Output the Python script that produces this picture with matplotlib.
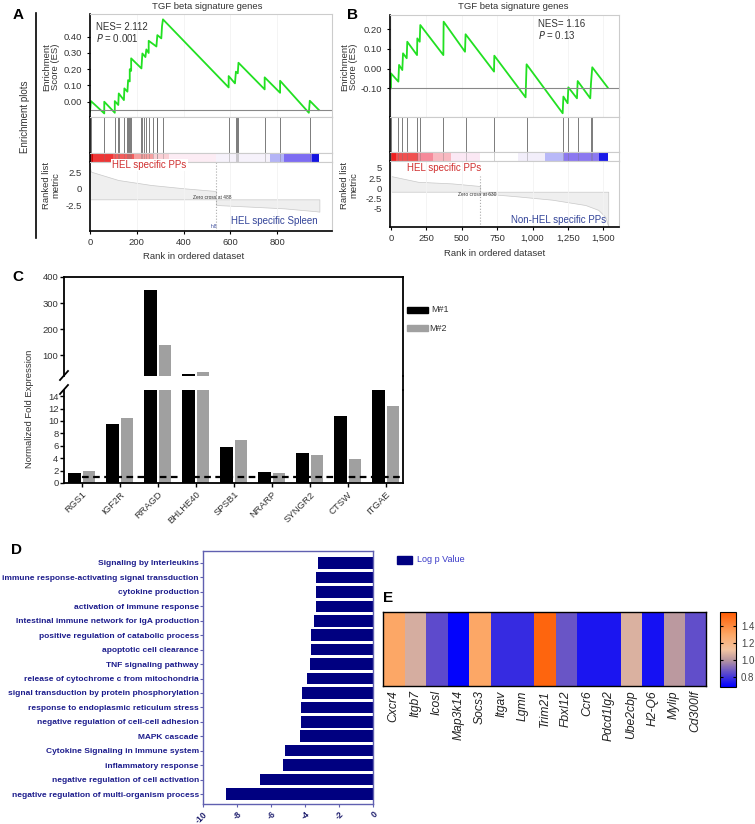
import numpy as np
import matplotlib.pyplot as plt
from matplotlib.colors import LinearSegmentedColormap
from matplotlib.patches import Rectangle

plt.rcParams['font.family'] = ['Liberation Sans', 'DejaVu Sans']

W, H = 755, 824

''' Panel A : running enrichment score (vertices), hits, ranked metric '''
es_a_rank = [0, 4, 61, 61, 106, 106, 121, 123, 145, 147, 160, 163, 170, 170, 176, 176,
             220, 224, 237, 241, 251, 251, 284, 288, 305, 308, 312, 593, 593, 620, 624,
             632, 635, 747, 747, 813, 813, 936, 940, 979]
es_a_val = [-0.06, 0.004, -0.072, 0.0, -0.068, 0.004, -0.02, 0.051, 0.01, 0.082, 0.062, 0.133,
            0.125, 0.2, 0.19, 0.267, 0.205, 0.297, 0.275, 0.322, 0.30, 0.375, 0.34, 0.41,
            0.39, 0.465, 0.507, 0.088, 0.158, 0.113, 0.185, 0.175, 0.24, 0.076, 0.15,
            0.055, 0.129, -0.068, 0.006, -0.051]
hits_a = [3, 61, 106, 118, 123, 145, 160, 163, 166, 170, 176, 220, 224, 231, 241, 251,
          269, 286, 288, 312, 593, 624, 630, 635, 747, 813, 940]
bar_a_start = [0, 11, 100, 190, 270, 340, 540, 770, 830, 950]
bar_a_end = [11, 100, 190, 270, 340, 540, 770, 830, 950, 981]
bar_a_col = ['#d40000', '#ee3535', '#f25c5c', '#f6a0a0', '#fad0d5', '#fcecf4', '#f6f2fb',
             '#b4b4f6', '#7d6cf2', '#1414e0']
metric_a_pos_rank = [0, 4, 121, 262, 404, 539]
metric_a_pos_val = [3.15, 2.6, 1.35, 0.6, 0.1, -0.3]
metric_a_neg_rank = [539, 688, 830, 971, 981]
metric_a_neg_val = [-2.4, -2.65, -2.9, -3.35, -3.4]

''' Panel B '''
es_b_rank = [0, 0, 52, 57, 80, 85, 111, 115, 184, 186, 203, 207, 370, 372, 523, 527, 728,
             730, 951, 958, 1213, 1218, 1248, 1253, 1314, 1319, 1408, 1413, 1422, 1531]
es_b_val = [-0.10, -0.024, -0.066, 0.019, -0.007, 0.078, 0.053, 0.137, 0.069, 0.154, 0.137,
            0.222, 0.069, 0.239, 0.086, 0.175, -0.015, 0.066, -0.146, 0.022, -0.227, -0.142,
            -0.176, -0.095, -0.151, -0.063, -0.151, -0.075, 0.007, -0.096]
hits_b = [0, 52, 80, 111, 184, 205, 370, 527, 728, 958, 1218, 1253, 1319, 1413, 1422]
bar_b_start = [0, 35, 193, 300, 424, 629, 900, 1088, 1225, 1470]
bar_b_end = [35, 193, 300, 424, 629, 900, 1088, 1225, 1470, 1535]
bar_b_col = ['#ee2020', '#f05050', '#f58a9a', '#f8b8c0', '#fbe8f4', '#ffffff', '#f2eefa',
             '#b8b8f8', '#8c78f0', '#1a1ae8']
metric_b_pos_rank = [0, 191, 432, 630]
metric_b_pos_val = [3.0, 1.6, 1.2, 0.56]
metric_b_neg_rank = [630, 899, 1139, 1373, 1465, 1514, 1535]
metric_b_neg_val = [-1.2, -2.0, -2.8, -4.1, -5.3, -7.0, -9.4]

''' Panel C '''
genes_c = ['RGS1', 'IGF2R', 'RRAGD', 'BHLHE40', 'SPSB1', 'NRARP', 'SYNGR2', 'CTSW', 'ITGAE']
m1_c = [1.66, 9.47, 352, 29, 5.85, 1.84, 4.82, 10.73, 15.0]
m2_c = [1.95, 10.56, 140, 34, 6.9, 1.66, 4.47, 3.84, 12.45]

''' Panel D '''
terms_d = ['Signaling by Interleukins', 'immune response-activating signal transduction',
           'cytokine production', 'activation of immune response',
           'Intestinal immune network for IgA production',
           'positive regulation of catabolic process', 'apoptotic cell clearance',
           'TNF signaling pathway', 'release of cytochrome c from mitochondria',
           'signal transduction by protein phosphorylation',
           'response to endoplasmic reticulum stress',
           'negative regulation of cell-cell adhesion', 'MAPK cascade',
           'Cytokine Signaling in Immune system', 'inflammatory response',
           'negative regulation of cell activation',
           'negative regulation of multi-organism process']
logp_d = [-3.24, -3.33, -3.35, -3.35, -3.45, -3.63, -3.63, -3.69, -3.9, -4.2, -4.24, -4.24,
          -4.3, -5.16, -5.3, -6.63, -8.63]

''' Panel E '''
genes_e = ['Cxcr4', 'Itgb7', 'Icosl', 'Map3k14', 'Socs3', 'Itgav', 'Lgmn', 'Trim21',
           'Fbxl12', 'Ccr6', 'Pdcd1lg2', 'Ube2cbp', 'H2-Q6', 'Mylip', 'Cd300lf']
fold_e = [1.3, 1.06, 0.85, 0.69, 1.3, 0.78, 0.78, 1.53, 0.87, 0.73, 0.73, 1.07, 0.72,
          1.01, 0.855]


fig = plt.figure(figsize=(W / 100, H / 100), dpi=100)


def px_axes(x0, y0, x1, y1):
    return fig.add_axes([x0 / W, 1 - y1 / H, (x1 - x0) / W, (y1 - y0) / H])


def gsea_panel(x0, x1, ys, xlim, es_rank, es_val, es_base, es_ylim, es_ticks, es_labels,
               hits, b_start, b_end, b_col, p_rank, p_val, n_rank, n_val, m_base, m_ylim,
               m_ticks, m_labels, x_ticks, x_labels, zero_rank, zero_top):
    y_es, y_hit, y_bar, y_rank, y_end = ys
    light = '#cccccc'

    # running enrichment score
    ax = px_axes(x0, y_es, x1, y_hit)
    ax.plot(es_rank, es_val, color='#22e022', lw=1.3)
    ax.axhline(es_base, color='#888888', lw=0.8)
    ax.set_xlim(xlim)
    ax.set_ylim(es_ylim)
    ax.set_xticks(x_ticks)
    ax.grid(axis='x', color='#f3f3f3', lw=0.6)
    ax.tick_params(axis='x', length=0, labelbottom=False)
    ax.set_yticks(es_ticks)
    ax.set_yticklabels(es_labels)
    ax.tick_params(axis='y', length=2, pad=4, labelsize=6.8, labelcolor='#333333')
    for s in ['top', 'right', 'bottom']:
        ax.spines[s].set_color(light)
    ax.spines['left'].set_linewidth(1.2)

    # hits
    ax = px_axes(x0, y_hit, x1, y_bar)
    ax.vlines(hits, 0, 1, color='#666666', lw=0.6)
    ax.set_xlim(xlim)
    ax.set_ylim(0, 1)
    ax.set_xticks([])
    ax.set_yticks([])
    for s in ['top', 'right', 'bottom']:
        ax.spines[s].set_color(light)
    ax.spines['left'].set_linewidth(1.2)

    # colour strip
    ax = px_axes(x0, y_bar, x1, y_rank)
    ax.broken_barh([(s, e - s) for s, e in zip(b_start, b_end)], (0, 1), facecolors=b_col)
    ax.vlines(hits, 0, 1, color='#777777', lw=0.5, alpha=0.5)
    ax.set_xlim(xlim)
    ax.set_ylim(0, 1)
    ax.set_xticks([])
    ax.set_yticks([])
    for s in ['top', 'right', 'bottom']:
        ax.spines[s].set_color(light)
    ax.spines['left'].set_linewidth(1.2)

    # ranked list metric
    ax = px_axes(x0, y_rank, x1, y_end)
    ax.fill_between(p_rank, m_base, p_val, facecolor='#efefef', edgecolor='#c8c8c8', lw=0.5)
    ax.fill_between(n_rank, m_base, n_val, facecolor='#efefef', edgecolor='#c8c8c8', lw=0.5)
    ax.vlines(zero_rank, m_ylim[0], zero_top, color='#aaaaaa', ls=':', lw=0.8)
    ax.set_xlim(xlim)
    ax.set_ylim(m_ylim)
    ax.set_yticks(m_ticks)
    ax.set_yticklabels(m_labels)
    ax.set_xticks(x_ticks)
    ax.set_xticklabels(x_labels)
    ax.grid(axis='x', color='#f3f3f3', lw=0.6)
    ax.tick_params(axis='y', length=0, pad=6, labelsize=6.8, labelcolor='#333333')
    ax.tick_params(axis='x', length=2, pad=3, labelsize=6.8, labelcolor='#333333')
    for s in ['top', 'right']:
        ax.spines[s].set_color(light)
    ax.spines['left'].set_linewidth(1.2)
    ax.spines['bottom'].set_linewidth(1.2)


gsea_panel(90, 332, (14, 117, 153, 162, 231), (0, 1035), es_a_rank, es_a_val, -0.051,
           (-0.094, 0.54), [0, 0.1, 0.2, 0.3, 0.4], ['0.00', '0.10', '0.20', '0.30', '0.40'],
           hits_a, bar_a_start, bar_a_end, bar_a_col, metric_a_pos_rank, metric_a_pos_val,
           metric_a_neg_rank, metric_a_neg_val, -1.55, (-6.3, 4.05), [2.5, 0, -2.5],
           ['2.5', '0', '-2.5'], [0, 200, 400, 600, 800], ['0', '200', '400', '600', '800'],
           539, 4.05)

gsea_panel(390, 619, (15, 117, 152, 161, 227), (-7, 1611), es_b_rank, es_b_val, -0.097,
           (-0.246, 0.273), [-0.1, 0, 0.1, 0.2], ['-0.10', '0.00', '0.10', '0.20'],
           hits_b, bar_b_start, bar_b_end, bar_b_col, metric_b_pos_rank, metric_b_pos_val,
           metric_b_neg_rank, metric_b_neg_val, -0.84, (-9.5, 6.7), [5, 2.5, 0, -2.5, -5],
           ['5', '2.5', '0', '-2.5', '-5'], [0, 250, 500, 750, 1000, 1250, 1500],
           ['0', '250', '500', '750', '1,000', '1,250', '1,500'], 630, 2.9)

''' Panel C : broken y axis bar chart '''
x_c = np.arange(len(genes_c))
for (y0, y1, lim) in [(277, 376, (20, 400)), (390, 483, (0, 15))]:
    ax = px_axes(64, y0, 403, y1)
    ax.bar(x_c - 0.19, m1_c, width=0.33, color='black')
    ax.bar(x_c + 0.19, m2_c, width=0.33, color='#a0a0a0')
    ax.set_xlim(-0.47, 8.45)
    ax.set_ylim(lim)
    for s in ax.spines.values():
        s.set_linewidth(1.3)
    ax.tick_params(axis='y', length=3, width=1, pad=1, labelsize=6.8, labelcolor='#333333')
    if lim[0] > 0:
        ax.set_yticks([100, 200, 300, 400])
        ax.spines['bottom'].set_visible(False)
        ax.set_xticks([])
    else:
        ax.axhline(1, xmin=0.47 / 8.92, color='black', lw=1.6, ls=(0, (3, 2)))
        ax.set_yticks(np.arange(0, 15, 2))
        ax.spines['top'].set_visible(False)
        ax.set_xticks(x_c)
        ax.set_xticklabels(genes_c, rotation=45, ha='right', rotation_mode='anchor')
        ax.tick_params(axis='x', length=3, width=1, pad=2, labelsize=6.8,
                       labelcolor='#333333')

''' Panel D : log p values '''
ax = px_axes(203, 551, 373, 804)
ax.barh(np.arange(len(terms_d)), logp_d, height=0.8, color='#000080')
ax.set_xlim(-10, 0)
ax.set_ylim(len(terms_d) - 1 + 0.69, -0.83)
ax.set_yticks(np.arange(len(terms_d)))
ax.set_yticklabels(terms_d, fontweight='bold')
ax.set_xticks([-10, -8, -6, -4, -2, 0])
ax.set_xticklabels(['-10', '-8', '-6', '-4', '-2', '0'], rotation=45, ha='right',
                   rotation_mode='anchor', fontweight='bold')
ax.tick_params(axis='y', length=2, pad=1, labelsize=6.0, labelcolor='#1c1c8c',
               color='#6060b0')
ax.tick_params(axis='x', length=2, pad=2, labelsize=6.2, labelcolor='#1c1c6c',
               color='#6060b0')
for s in ax.spines.values():
    s.set_color('#6060b0')
    s.set_linewidth(1.0)

''' Panel E : heatmap '''
cmap_e = LinearSegmentedColormap.from_list('e', [
    (0.0, '#0000ff'), ((0.85 - 0.68) / 0.89, '#5f4ccc'), ((1.0 - 0.68) / 0.89, '#b8969f'),
    ((1.12 - 0.68) / 0.89, '#f2c4a2'), ((1.3 - 0.68) / 0.89, '#fca867'), (1.0, '#ff5a00')])
ax = px_axes(383, 612, 706, 686)
im = ax.imshow(np.array([fold_e]), cmap=cmap_e, vmin=0.68, vmax=1.57, aspect='auto')
ax.set_yticks([])
ax.set_xticks(np.arange(len(genes_e)))
ax.set_xticklabels(genes_e, rotation=90, style='italic')
ax.tick_params(axis='x', length=0, pad=3, labelsize=8.7, labelcolor='#222222')
for s in ax.spines.values():
    s.set_linewidth(1.0)
cax = px_axes(720, 612, 736, 687)
cb = fig.colorbar(im, cax=cax, ticks=[0.8, 1.0, 1.2, 1.4])
cb.ax.tick_params(labelsize=7, labelcolor='#444444', length=2, direction='in', left=True)
cb.outline.set_linewidth(0.8)

''' Overlay for labels in pixel coordinates '''
ov = fig.add_axes([0, 0, 1, 1])
ov.set_xlim(0, W)
ov.set_ylim(H, 0)
ov.axis('off')

gray = '#333333'
for lab, x, y in [('A', 18, 15), ('B', 352, 15), ('C', 18, 277), ('D', 16, 550),
                  ('E', 388, 598)]:
    ov.text(x, y, lab, fontsize=11, fontweight='heavy', ha='center', va='center')

ov.text(207, 6, 'TGF beta signature genes', fontsize=6.8, color=gray, ha='center', va='center')
ov.text(513, 6, 'TGF beta signature genes', fontsize=6.8, color=gray, ha='center', va='center')
ov.text(96, 27, 'NES= 2.112', fontsize=7, color=gray, va='center')
ov.text(96, 38, '$P$ = 0.001', fontsize=7, color=gray, va='center')
ov.text(538, 24, 'NES= 1.16', fontsize=7, color=gray, va='center')
ov.text(538, 35, '$P$ = 0.13', fontsize=7, color=gray, va='center')

ov.plot([36, 36], [13, 238], color='black', lw=1.2)
ov.text(25, 117, 'Enrichment plots', fontsize=7, color=gray, rotation=90,
        ha='center', va='center')
for x in (51, 349):
    ov.text(x, 67, 'Enrichment\nScore (ES)', fontsize=6.8, color=gray, rotation=90,
            ha='center', va='center', linespacing=1.0)
    ov.text(x, 185, 'Ranked list\nmetric', fontsize=6.8, color=gray, rotation=90,
            ha='center', va='center', linespacing=1.0)

ov.text(112, 165, 'HEL specific PPs', fontsize=7, color='#d03030', va='center',
        bbox=dict(fc='white', ec='none', pad=1))
ov.text(231, 221, 'HEL specific Spleen', fontsize=7, color='#334499', va='center')
ov.text(193, 197, 'Zero cross at 488', fontsize=3.5, color='#333333', va='center')
ov.text(211, 226, "'n8", fontsize=3.5, color='#334499', va='center')
ov.text(194, 256, 'Rank in ordered dataset', fontsize=6.8, color=gray, ha='center',
        va='center')

ov.text(407, 168, 'HEL specific PPs', fontsize=7, color='#d03030', va='center')
ov.text(511, 220, 'Non-HEL specific PPs', fontsize=7, color='#334499', va='center')
ov.text(458, 194, 'Zero cross at 630', fontsize=3.5, color='#333333', va='center')
ov.text(495, 253, 'Rank in ordered dataset', fontsize=6.8, color=gray, ha='center',
        va='center')

# panel C decorations
ov.text(30, 409, 'Normalized Fold Expression', fontsize=6.8, color=gray, rotation=90,
        ha='center', va='center')
ov.plot([403, 403], [376, 390], color='black', lw=1.3)
ov.plot([60, 68], [380, 371], color='black', lw=1.3)
ov.plot([60, 68], [394, 385], color='black', lw=1.3)
ov.add_patch(Rectangle((407, 307), 21, 6, color='black'))
ov.text(431, 310, 'M#1', fontsize=6.5, color=gray, va='center')
ov.add_patch(Rectangle((407, 325), 21, 6, color='#a0a0a0'))
ov.text(429, 328, 'M#2', fontsize=6.5, color=gray, va='center')

# panel D legend
ov.add_patch(Rectangle((397, 556), 15, 8, color='#000080'))
ov.text(417, 560, 'Log p Value', fontsize=6.5, color='#3a3ac8', va='center')

plt.savefig('out.png', dpi=100)
